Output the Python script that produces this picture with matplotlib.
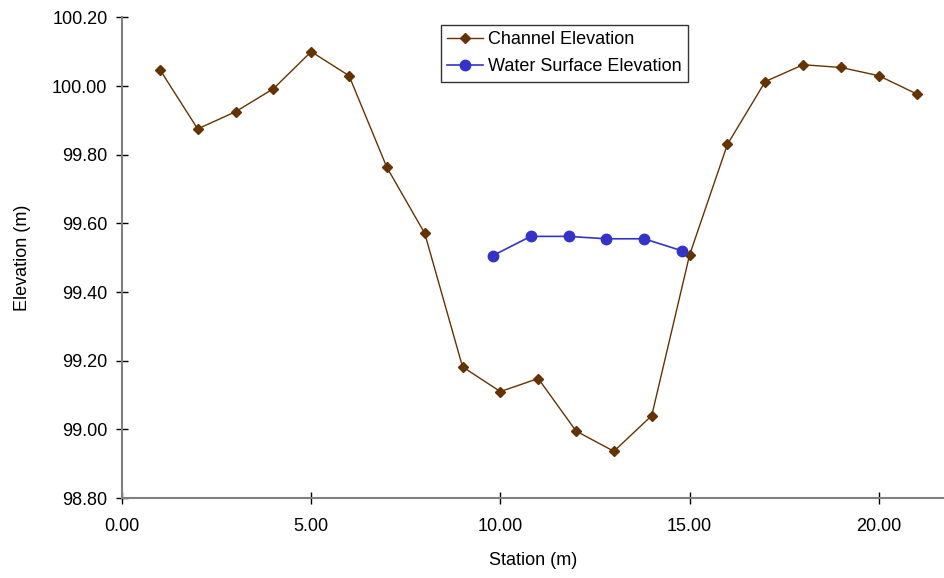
import matplotlib
matplotlib.use("Agg")
import matplotlib.pyplot as plt
from matplotlib.ticker import FormatStrFormatter

plt.rcParams['font.family'] = ['Liberation Sans', 'DejaVu Sans']

# Channel cross-section survey
station = [1, 2, 3, 4, 5, 6, 7, 8, 9, 10, 11, 12, 13, 14, 15, 16, 17, 18, 19, 20, 21]
channel_elev = [100.048, 99.875, 99.925, 99.992, 100.100, 100.030, 99.763, 99.571,
                99.182, 99.110, 99.148, 98.995, 98.936, 99.040, 99.508, 99.830,
                100.013, 100.062, 100.054, 100.030, 99.977]

# Water surface readings
ws_station = [9.8, 10.8, 11.8, 12.8, 13.8, 14.8]
ws_elev = [99.506, 99.562, 99.562, 99.555, 99.555, 99.520]

x_ticks = [0, 5, 10, 15, 20]
y_ticks = [98.80, 99.00, 99.20, 99.40, 99.60, 99.80, 100.00, 100.20]

fig = plt.figure(figsize=(9.45, 5.78), dpi=100)
ax = fig.add_axes([0.1291, 0.1384, 0.8709, 0.8316])

ax.plot(station, channel_elev, color='#663300', lw=1.0, marker='D', ms=5.5,
        label='Channel Elevation', zorder=3)
ax.plot(ws_station, ws_elev, color='#3333CC', lw=1.2, marker='o', ms=7.5,
        label='Water Surface Elevation', zorder=4)

ax.set_xlim(0, 21.75)
ax.set_ylim(98.80, 100.20)
ax.set_xticks(x_ticks)
ax.set_yticks(y_ticks)
ax.xaxis.set_major_formatter(FormatStrFormatter('%.2f'))
ax.yaxis.set_major_formatter(FormatStrFormatter('%.2f'))

for side in ['top', 'right']:
    ax.spines[side].set_visible(False)
for side in ['left', 'bottom']:
    ax.spines[side].set_color('#808080')
    ax.spines[side].set_linewidth(1.5)

ax.tick_params(direction='inout', length=9, width=1, color='black',
               labelsize=13, pad=6)
ax.tick_params(axis='x', pad=10)

ax.set_xlabel('Station (m)', fontsize=13, labelpad=12)
ax.set_ylabel('Elevation (m)', fontsize=13, labelpad=15)

leg = ax.legend(loc='upper left', bbox_to_anchor=(0.3876, 0.984), fontsize=13,
                frameon=True, fancybox=False, borderpad=0.35, labelspacing=0.55,
                handlelength=2.0, handletextpad=0.25, borderaxespad=0)
leg.get_frame().set_edgecolor('black')
leg.get_frame().set_linewidth(1.0)

fig.savefig('out.png', dpi=100)
